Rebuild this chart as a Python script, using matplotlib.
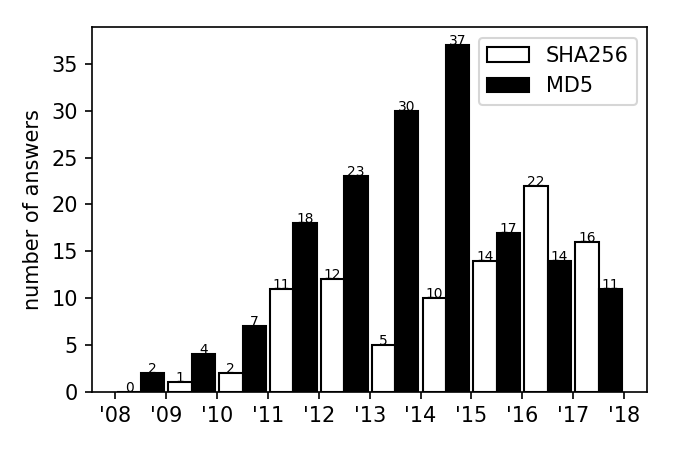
import matplotlib
matplotlib.use("Agg")
import matplotlib.pyplot as plt
import numpy as np

years = ["'08", "'09", "'10", "'11", "'12", "'13", "'14", "'15", "'16", "'17", "'18"]
sha256 = [0, 1, 2, 11, 12, 5, 10, 14, 22, 16]
md5 = [2, 4, 7, 18, 23, 30, 37, 17, 14, 11]

fig = plt.figure(figsize=(4.5, 3), dpi=150)
ax = fig.add_axes([0.137, 0.1296, 0.822, 0.8097])

x = np.arange(len(sha256))
w = 0.46
ax.bar(x + 0.04, sha256, width=w, align='edge', color='white', edgecolor='black', linewidth=1, label='SHA256')
ax.bar(x + 0.5, md5, width=w, align='edge', color='black', edgecolor='black', linewidth=1, label='MD5')

for xi, v in zip(x, sha256):
    ax.text(xi + 0.04 + w/2, v, str(v), ha='center', va='baseline', fontsize=6.6)
for xi, v in zip(x, md5):
    ax.text(xi + 0.5 + w/2, v, str(v), ha='center', va='baseline', fontsize=6.6)

ax.set_xticks(np.arange(len(years)))
ax.set_xticklabels(years)
ax.set_xlim(-0.45, 10.46)
ax.set_ylim(0, 38.93)
ax.set_ylabel('number of answers')
ax.legend(loc='upper right')

fig.savefig('out.png', dpi=150)
